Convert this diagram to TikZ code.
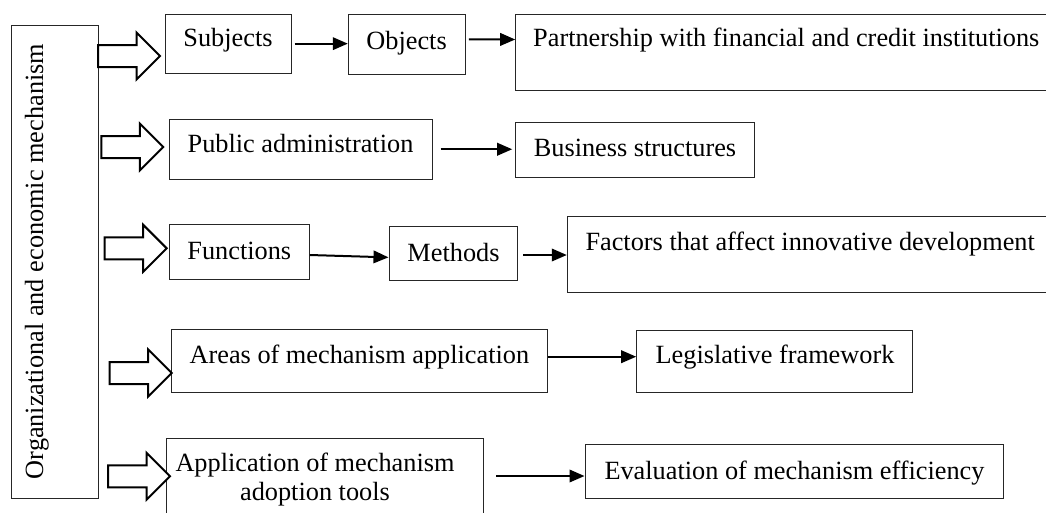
\documentclass[tikz,border=0pt]{standalone}
\usepackage{fontspec}
\setmainfont{Liberation Serif}
\usetikzlibrary{arrows.meta,calc,fit}
\tikzset{
  box/.style={draw=black!85, line width=1pt, inner sep=0pt, rectangle},
  txt/.style={inner sep=0pt, font=\fontsize{26.3}{29.5}\selectfont},
  conn/.style={draw, line width=2pt, -{Triangle[length=15pt,width=12.5pt]}},
  blk/.style={draw, line width=2pt, line join=miter, fill=white},
  blockarrow/.pic={\path[blk] (0,0) -- (-23.5,23.5) -- (-23.5,11) -- (-62,11) -- (-62,-11) -- (-23.5,-11) -- (-23.5,-23.5) -- cycle;}
}
\newcommand\mybox[5]{\node[box, fit={(#2,#3) (#4,#5)}] (#1) {};}
\begin{document}
\begin{tikzpicture}[x=1pt,y=-1pt]
\useasboundingbox (0,0) rectangle (1046,512);
\clip (0,0) rectangle (1046,512);
% boxes
\mybox{mech}{11}{25}{98.7}{498}
\mybox{sub}{165}{14}{291}{73.3}
\mybox{obj}{348.3}{14.3}{465}{74.3}
\mybox{part}{515.7}{14}{1060}{90}
\mybox{pa}{169.3}{119.3}{432.3}{179.2}
\mybox{bus}{515.7}{122.7}{754.3}{177.3}
\mybox{fun}{169}{224}{309.3}{279.3}
\mybox{met}{389}{226}{517.7}{280.7}
\mybox{fac}{567.3}{216}{1060}{292.7}
\mybox{area}{171}{329.5}{547.7}{392.3}
\mybox{leg}{636.7}{330}{912.7}{392.3}
\mybox{app}{166.7}{438.3}{483.3}{520}
\mybox{eva}{585}{444.3}{1003.8}{498.8}
% texts
\node[txt, anchor=base, rotate=90] (mech-t) at (43,261.5) {Organizational and economic mechanism};
\node[txt, anchor=base] (sub-t) at (228,46.7) {Subjects};
\node[txt, anchor=base] (obj-t) at (406.6,49.5) {Objects};
\node[txt, anchor=base west] (part-t) at (533,46.7) {Partnership with financial and credit institutions};
\node[txt, anchor=base] (pa-t) at (300.5,152.5) {Public administration};
\node[txt, anchor=base] (bus-t) at (635,156.7) {Business structures};
\node[txt, anchor=base] (fun-t) at (239.3,259.3) {Functions};
\node[txt, anchor=base] (met-t) at (453.5,261) {Methods};
\node[txt, anchor=base west] (fac-t) at (585.3,250) {Factors that affect innovative development};
\node[txt, anchor=base] (area-t) at (359.4,363.5) {Areas of mechanism application};
\node[txt, anchor=base] (leg-t) at (775,363.3) {Legislative framework};
\node[txt, anchor=base] (app-t1) at (315,471.2) {Application of mechanism};
\node[txt, anchor=base] (app-t2) at (315,500.5) {adoption tools};
\node[txt, anchor=base] (eva-t) at (794.5,479.3) {Evaluation of mechanism efficiency};
% block arrows
\pic at (160,56) {blockarrow};
\pic at (163.3,147) {blockarrow};
\pic at (166.7,248.3) {blockarrow};
\pic at (171.7,373) {blockarrow};
\pic at (170,476.3) {blockarrow};
% connectors
\draw[conn] ($(sub.east)+(3,0)$) -- (sub.east -| obj.west);
\draw[conn] ($(obj.east)+(3.3,-5)$) -- ($(part.west)+(0,-12.5)$);
\draw[conn] ($(pa.east)+(7.7,0)$) -- ($(pa.east -| bus.west)+(-3,0)$);
\draw[conn] ($(fun.east)+(0,3.35)$) -- ($(met.west)+(0,4)$);
\draw[conn] ($(met.east)+(5,1.65)$) -- ($(fac.west)+(0,0.65)$);
\draw[conn] ($(area.east)+(0,-4.2)$) -- ($(leg.west)+(0,-4.45)$);
\draw[conn] ($(app.east)+(12.4,-3.15)$) -- ($(eva.west)+(0,4.45)$);
\end{tikzpicture}
\end{document}
